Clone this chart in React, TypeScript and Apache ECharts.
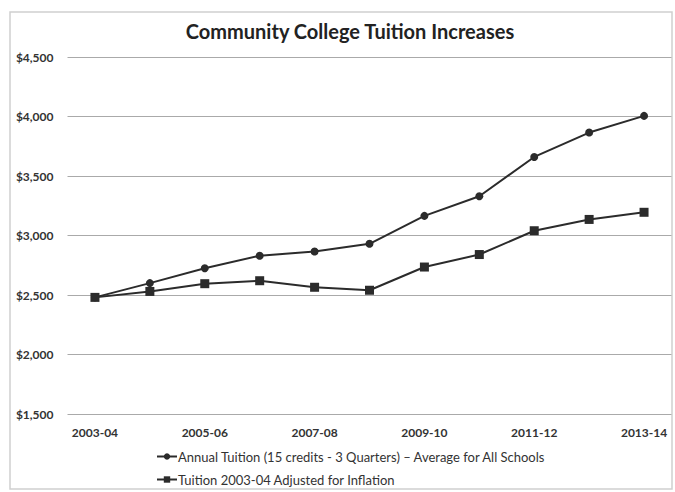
import React, { useEffect, useRef } from "react";
import * as echarts from "echarts";

const categories = [
  "2003-04", "2004-05", "2005-06", "2006-07", "2007-08", "2008-09",
  "2009-10", "2010-11", "2011-12", "2012-13", "2013-14",
];
const annualTuition = [2480, 2600, 2725, 2830, 2865, 2930, 3165, 3330, 3660, 3865, 4005];
const adjustedTuition = [2480, 2530, 2595, 2620, 2565, 2540, 2735, 2840, 3040, 3135, 3195];
const seriesNames = [
  "Annual Tuition (15 credits - 3 Quarters) \u2013 Average for All Schools",
  "Tuition 2003-04 Adjusted for Inflation",
];
const titleText = "Community College Tuition Increases";

const FONT = "Lato, 'Liberation Sans', sans-serif";

export default function App() {
  const ref = useRef<HTMLDivElement>(null);
  useEffect(() => {
    if (!ref.current) return;
    const chart = echarts.init(ref.current, undefined, { renderer: "svg" });
    const legendBase = {
      orient: "horizontal",
      left: 151,
      itemWidth: 20,
      itemHeight: 8,
      itemGap: 0,
      textStyle: { fontFamily: FONT, fontSize: 13, color: "#333", padding: [0, 0, 0, -4] },
    };
    chart.setOption({
      animation: false,
      backgroundColor: "#fff",
      textStyle: { fontFamily: FONT },
      title: {
        text: titleText,
        left: 345,
        textAlign: "center",
        top: 16,
        textStyle: { fontFamily: FONT, fontSize: 20, fontWeight: "bold", color: "#222" },
      },
      graphic: [
        {
          type: "rect",
          shape: { x: 10, y: 12, width: 662, height: 477 },
          style: { fill: "none", stroke: "#d0d0d0", lineWidth: 1.5 },
          silent: true,
        },
      ],
      grid: { left: 67.5, top: 57, width: 604, height: 357, containLabel: false },
      legend: [
        { ...legendBase, top: 445, data: [seriesNames[0]] },
        { ...legendBase, top: 468, data: [seriesNames[1]] },
      ],
      xAxis: {
        type: "category",
        data: categories,
        boundaryGap: true,
        axisLine: { show: false },
        axisTick: { show: false },
        axisLabel: {
          interval: 1,
          margin: 12,
          fontFamily: FONT,
          fontSize: 12,
          fontWeight: "bold",
          color: "#333",
        },
      },
      yAxis: {
        type: "value",
        min: 1500,
        max: 4500,
        interval: 500,
        axisLine: { show: false },
        axisTick: { show: false },
        splitLine: { lineStyle: { color: "#aaaaaa", width: 1 } },
        axisLabel: {
          margin: 14,
          fontFamily: FONT,
          fontSize: 12,
          fontWeight: "bold",
          color: "#333",
          formatter: (v: number) => "$" + v.toLocaleString("en-US"),
        },
      },
      series: [
        {
          name: seriesNames[0],
          type: "line",
          data: annualTuition,
          symbol: "circle",
          symbolSize: 8,
          itemStyle: { color: "#2b2b2b" },
          lineStyle: { color: "#2b2b2b", width: 2 },
        },
        {
          name: seriesNames[1],
          type: "line",
          data: adjustedTuition,
          symbol: "rect",
          symbolSize: 9,
          itemStyle: { color: "#2b2b2b" },
          lineStyle: { color: "#2b2b2b", width: 2 },
        },
      ],
    });
    return () => chart.dispose();
  }, []);
  return (
    <div
      ref={ref}
      style={{ position: "absolute", left: 0, top: 0, width: 675, height: 492 }}
    />
  );
}
